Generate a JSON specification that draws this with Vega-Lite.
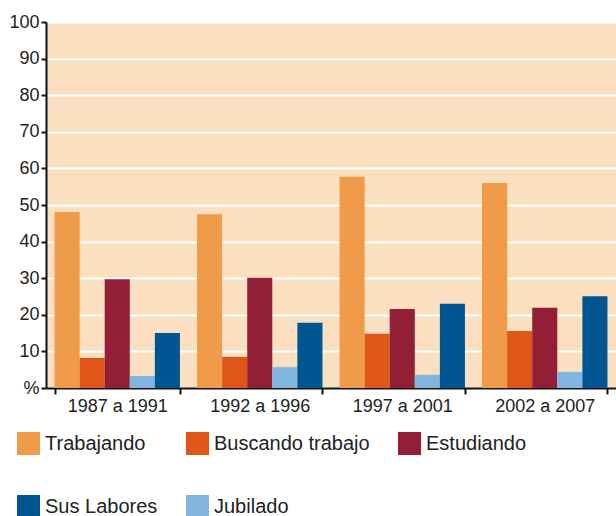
{
  "$schema": "https://vega.github.io/schema/vega-lite/v6.json",
  "width": 570,
  "height": 366,
  "autosize": "none",
  "padding": {"left": 46, "top": 22, "right": 0, "bottom": 128},
  "background": "white",
  "config": {
    "view": {"fill": "#FADFC0", "stroke": null},
    "font": "Liberation Sans"
  },
  "data": {
    "values": [
      {"periodo": "1987 a 1991", "categoria": "Trabajando", "valor": 48.1},
      {"periodo": "1987 a 1991", "categoria": "Buscando trabajo", "valor": 8.2},
      {"periodo": "1987 a 1991", "categoria": "Estudiando", "valor": 29.7},
      {"periodo": "1987 a 1991", "categoria": "Jubilado", "valor": 3.3},
      {"periodo": "1987 a 1991", "categoria": "Sus Labores", "valor": 15.0},
      {"periodo": "1992 a 1996", "categoria": "Trabajando", "valor": 47.5},
      {"periodo": "1992 a 1996", "categoria": "Buscando trabajo", "valor": 8.5},
      {"periodo": "1992 a 1996", "categoria": "Estudiando", "valor": 30.1},
      {"periodo": "1992 a 1996", "categoria": "Jubilado", "valor": 5.7},
      {"periodo": "1992 a 1996", "categoria": "Sus Labores", "valor": 17.8},
      {"periodo": "1997 a 2001", "categoria": "Trabajando", "valor": 57.7},
      {"periodo": "1997 a 2001", "categoria": "Buscando trabajo", "valor": 14.8},
      {"periodo": "1997 a 2001", "categoria": "Estudiando", "valor": 21.6},
      {"periodo": "1997 a 2001", "categoria": "Jubilado", "valor": 3.6},
      {"periodo": "1997 a 2001", "categoria": "Sus Labores", "valor": 23.0},
      {"periodo": "2002 a 2007", "categoria": "Trabajando", "valor": 56.0},
      {"periodo": "2002 a 2007", "categoria": "Buscando trabajo", "valor": 15.6},
      {"periodo": "2002 a 2007", "categoria": "Estudiando", "valor": 21.9},
      {"periodo": "2002 a 2007", "categoria": "Jubilado", "valor": 4.4},
      {"periodo": "2002 a 2007", "categoria": "Sus Labores", "valor": 25.1}
    ]
  },
  "mark": {"type": "bar"},
  "encoding": {
    "x": {
      "field": "periodo",
      "type": "nominal",
      "sort": ["1987 a 1991", "1992 a 1996", "1997 a 2001", "2002 a 2007"],
      "scale": {"paddingInner": 0.12, "paddingOuter": 0.06},
      "axis": {
        "title": null,
        "labelAngle": 0,
        "tickBand": "extent",
        "domainColor": "#111111",
        "domainWidth": 2,
        "tickColor": "#111111",
        "tickWidth": 2,
        "tickSize": 6,
        "labelFontSize": 18,
        "labelColor": "#222222",
        "labelPadding": 3
      }
    },
    "xOffset": {
      "field": "categoria",
      "type": "nominal",
      "sort": ["Trabajando", "Buscando trabajo", "Estudiando", "Jubilado", "Sus Labores"]
    },
    "y": {
      "field": "valor",
      "type": "quantitative",
      "scale": {"domain": [0, 100], "nice": false},
      "axis": {
        "title": null,
        "values": [0, 10, 20, 30, 40, 50, 60, 70, 80, 90, 100],
        "labelExpr": "datum.value == 0 ? '%' : datum.label",
        "grid": true,
        "gridColor": "white",
        "gridWidth": 2,
        "domainColor": "#111111",
        "domainWidth": 2,
        "tickColor": "#111111",
        "tickWidth": 2,
        "tickSize": 5,
        "labelFontSize": 18,
        "labelColor": "#222222",
        "labelPadding": 2
      }
    },
    "color": {
      "field": "categoria",
      "type": "nominal",
      "scale": {
        "domain": ["Trabajando", "Buscando trabajo", "Estudiando", "Sus Labores", "Jubilado"],
        "range": ["#EF9B4A", "#E05518", "#931F37", "#005691", "#82B4E0"]
      },
      "legend": {
        "title": null,
        "orient": "none",
        "legendX": -29,
        "legendY": 410,
        "direction": "horizontal",
        "columns": 3,
        "gridAlign": "each",
        "columnPadding": 28,
        "rowPadding": 40,
        "padding": 0,
        "symbolType": "square",
        "symbolSize": 529,
        "symbolStrokeWidth": 0,
        "labelFontSize": 20,
        "labelColor": "#222222",
        "labelOffset": 5,
        "labelLimit": 300
      }
    }
  }
}
